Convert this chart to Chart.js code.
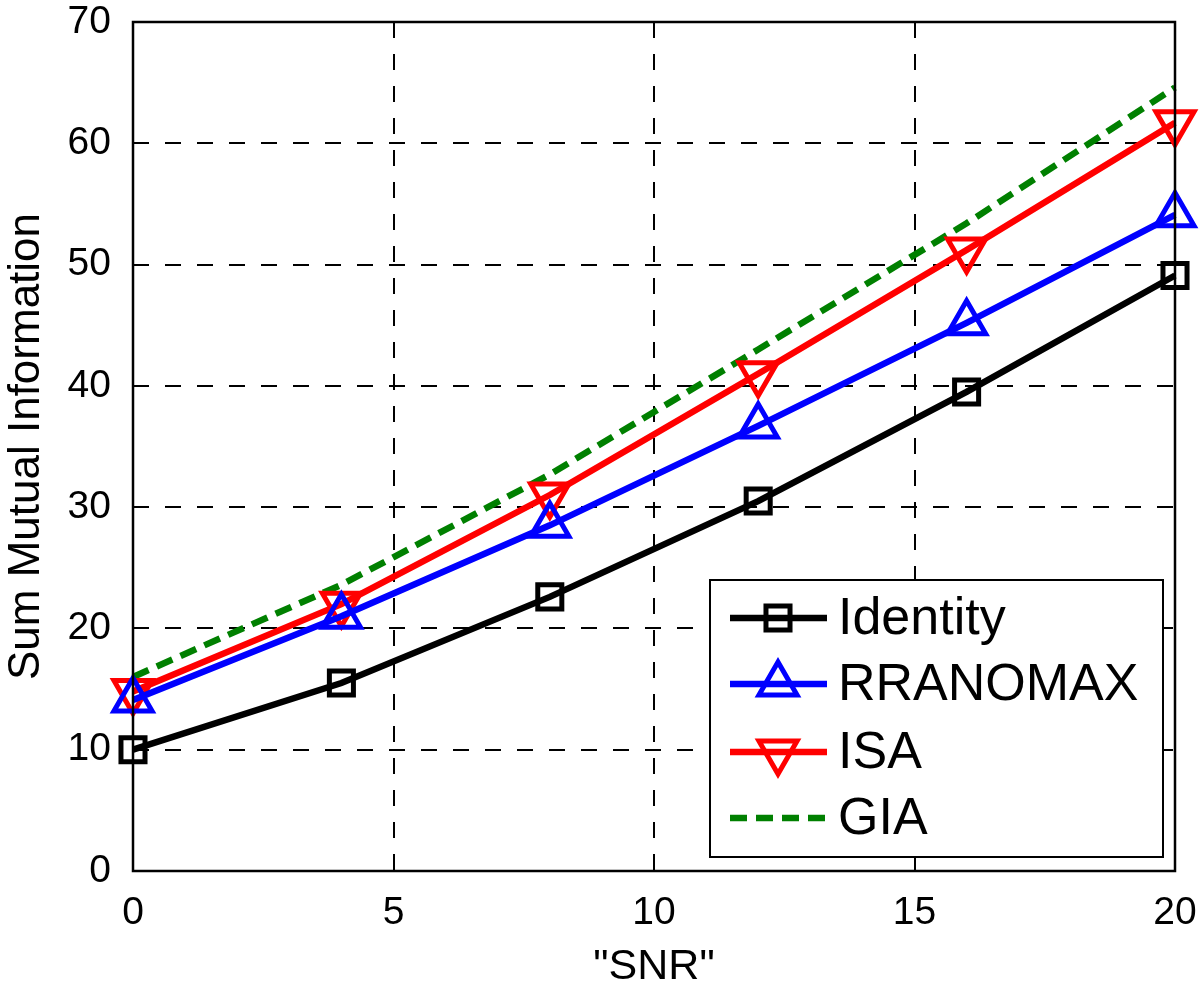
<!DOCTYPE html>
<html lang="en">
<head>
  <meta charset="UTF-8">
  <title>Sum Mutual Information vs SNR</title>
  <script src="https://cdn.jsdelivr.net/npm/chart.js"></script>
  <style>
    html, body { margin: 0; padding: 0; background: #fff; }
    #wrap { width: 1200px; height: 995px; }
  </style>
</head>
<body>
<div id="wrap">
  <canvas id="miChart" width="1200" height="995"></canvas>
</div>

<script>
  // values
  const snr = [0, 4, 8, 12, 16, 20];
  const identity = [10.0, 15.5, 22.6, 30.5, 39.5, 49.1];
  const rranomax = [14.1, 21.0, 28.5, 36.7, 45.2, 54.1];
  const isa = [14.8, 22.0, 31.0, 41.0, 51.2, 61.7];
  const gia = [16.0, 23.6, 32.7, 43.0, 53.4, 64.6];
  const xTicks = [0, 5, 10, 15, 20];
  const yTicks = [0, 10, 20, 30, 40, 50, 60, 70];

  const FONT = "'Liberation Sans', Arial, Helvetica, sans-serif";

  const toPoints = ys => snr.map((x, i) => ({ x: x, y: ys[i] }));

  // box around the plot, like matlab
  const framePlugin = {
    id: 'frame',
    afterDraw(chart) {
      const { ctx, chartArea: a } = chart;
      ctx.save();
      ctx.strokeStyle = '#000';
      ctx.lineWidth = 2.5;
      ctx.strokeRect(a.left, a.top, a.right - a.left, a.bottom - a.top);
      ctx.restore();
    }
  };

  // legend box inside the axes, bottom right
  const legendPlugin = {
    id: 'boxLegend',
    afterDraw(chart) {
      const ctx = chart.ctx;
      const bx = 710, by = 580, bw = 453, bh = 277;
      ctx.save();
      ctx.fillStyle = '#fff';
      ctx.fillRect(bx, by, bw, bh);
      ctx.strokeStyle = '#000';
      ctx.lineWidth = 2;
      ctx.strokeRect(bx, by, bw, bh);

      const rows = [618, 684, 752, 818];
      chart.data.datasets.forEach((ds, i) => {
        const y = rows[i];
        ctx.save();
        ctx.strokeStyle = ds.borderColor;
        ctx.lineWidth = ds.borderWidth;
        ctx.setLineDash(ds.borderDash || []);
        ctx.beginPath();
        ctx.moveTo(730, y);
        ctx.lineTo(827, y);
        ctx.stroke();
        ctx.restore();
        if (ds.pointRadius > 0) {
          ctx.save();
          ctx.fillStyle = 'rgba(0,0,0,0)';
          ctx.strokeStyle = ds.borderColor;
          ctx.lineWidth = ds.pointBorderWidth;
          Chart.helpers.drawPoint(ctx, {
            pointStyle: ds.pointStyle,
            radius: ds.pointRadius,
            rotation: ds.pointRotation || 0,
            borderWidth: ds.pointBorderWidth
          }, 778, y);
          ctx.restore();
        }
        ctx.fillStyle = '#000';
        ctx.font = '52px ' + FONT;
        ctx.textBaseline = 'middle';
        ctx.textAlign = 'left';
        ctx.fillText(ds.label, 838, y + 2);
      });
      ctx.restore();
    }
  };

  const grid = {
    color: '#000',
    lineWidth: 2,
    drawTicks: false
  };

  new Chart(document.getElementById('miChart').getContext('2d'), {
    type: 'line',
    data: {
      datasets: [
        {
          label: 'Identity',
          data: toPoints(identity),
          borderColor: '#000000',
          backgroundColor: 'transparent',
          borderWidth: 6.5,
          pointStyle: 'rect',
          pointRadius: 17,
          pointBorderWidth: 5,
          pointBorderColor: '#000000',
          pointBackgroundColor: 'transparent'
        },
        {
          label: 'RRANOMAX',
          data: toPoints(rranomax),
          borderColor: '#0000ff',
          backgroundColor: 'transparent',
          borderWidth: 6.5,
          pointStyle: 'triangle',
          pointRadius: 22,
          pointBorderWidth: 5,
          pointBorderColor: '#0000ff',
          pointBackgroundColor: 'transparent'
        },
        {
          label: 'ISA',
          data: toPoints(isa),
          borderColor: '#ff0000',
          backgroundColor: 'transparent',
          borderWidth: 6.5,
          pointStyle: 'triangle',
          pointRotation: 180,
          pointRadius: 22,
          pointBorderWidth: 5,
          pointBorderColor: '#ff0000',
          pointBackgroundColor: 'transparent'
        },
        {
          label: 'GIA',
          data: toPoints(gia),
          borderColor: '#008000',
          backgroundColor: 'transparent',
          borderWidth: 6.5,
          borderDash: [17, 9],
          pointRadius: 0
        }
      ]
    },
    options: {
      responsive: false,
      animation: false,
      clip: false,
      layout: { autoPadding: false, padding: { top: 22, right: 25, left: 0, bottom: 0 } },
      plugins: {
        legend: { display: false },
        tooltip: { enabled: false }
      },
      elements: { line: { tension: 0 } },
      scales: {
        x: {
          type: 'linear',
          min: 0,
          max: 20,
          afterFit(scale) {
            scale.height = 124;
            scale.paddingLeft = 0;
            scale.paddingRight = 0;
          },
          afterBuildTicks(scale) { scale.ticks = xTicks.map(v => ({ value: v })); },
          grid: Object.assign({}, grid),
          border: { display: false, dash: [16, 16] },
          ticks: {
            color: '#000',
            padding: 19,
            maxRotation: 0,
            font: { family: FONT, size: 39 }
          },
          title: {
            display: true,
            text: '"SNR"',
            color: '#000',
            padding: { top: 2, bottom: 2 },
            font: { family: FONT, size: 43 }
          }
        },
        y: {
          min: 0,
          max: 70,
          afterFit(scale) {
            scale.width = 133;
            scale.paddingTop = 0;
            scale.paddingBottom = 0;
          },
          afterBuildTicks(scale) { scale.ticks = yTicks.map(v => ({ value: v })); },
          grid: Object.assign({}, grid),
          border: { display: false, dash: [16, 16] },
          ticks: {
            color: '#000',
            padding: 22,
            font: { family: FONT, size: 39 }
          },
          title: {
            display: true,
            text: 'Sum Mutual Information',
            color: '#000',
            padding: { top: 0, bottom: 0 },
            font: { family: FONT, size: 44 }
          }
        }
      }
    },
    plugins: [framePlugin, legendPlugin]
  });
</script>
</body>
</html>
